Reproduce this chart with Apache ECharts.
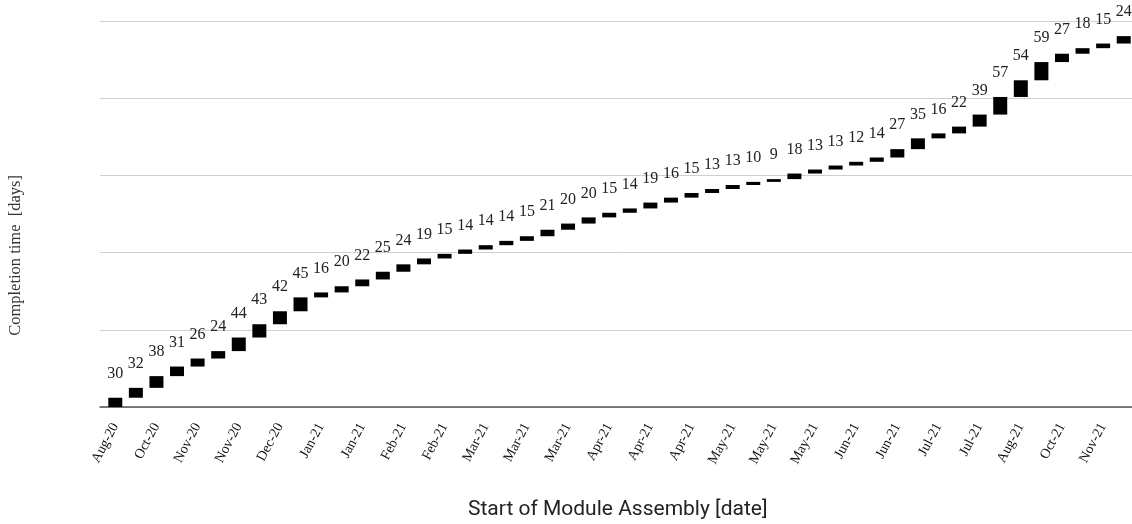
<!DOCTYPE html>
<html>
<head>
<meta charset="utf-8">
<script src="https://cdn.jsdelivr.net/npm/echarts@6/dist/echarts.min.js"></script>
<style>
html,body{margin:0;padding:0;background:#fff;}
#chart{width:1132px;height:524px;}
</style>
</head>
<body>
<div id="chart"></div>
<script>
// Completion time per module (days), in order of start of assembly
const completionDays = [30,32,38,31,26,24,44,43,42,45,16,20,22,25,24,19,15,14,14,14,15,21,20,20,15,14,19,16,15,13,13,10,9,18,13,13,12,14,27,35,16,22,39,57,54,59,27,18,15,24];
// Tick labels shown under every other module
const tickLabels = ['Aug-20','Oct-20','Nov-20','Nov-20','Dec-20','Jan-21','Jan-21','Feb-21','Feb-21','Mar-21','Mar-21','Mar-21','Apr-21','Apr-21','Apr-21','May-21','May-21','May-21','Jun-21','Jun-21','Jul-21','Jul-21','Aug-21','Oct-21','Nov-21'];
// y-axis range (days)
const yMax = 1250;
const yInterval = 250;

// categories: one per module, labelled every second one
const categories = completionDays.map((_, i) => (i % 2 === 0 ? tickLabels[i / 2] : ''));
// waterfall offsets (running total before each module)
const offsets = [];
let run = 0;
completionDays.forEach(v => { offsets.push(run); run += v; });

const chart = echarts.init(document.getElementById('chart'), null, {renderer: 'canvas'});
chart.setOption({
  backgroundColor: '#ffffff',
  animation: false,
  grid: [
    {left: 100, top: 21, width: 1034, height: 386, outerBoundsMode: 'none'},
    {left: 105, top: 21, width: 1029, height: 386, outerBoundsMode: 'none'}
  ],
  xAxis: [
    {type: 'category', gridIndex: 0, data: categories, axisLine: {show: true, lineStyle: {color: '#555', width: 1.5}},
     axisTick: {show: false}, axisLabel: {show: false}, splitLine: {show: false}},
    {type: 'category', gridIndex: 1, data: categories, axisLine: {show: false}, axisTick: {show: false},
     axisLabel: {interval: 0, rotate: 62, margin: 17, fontFamily: 'Liberation Serif', fontSize: 14, color: '#111'},
     splitLine: {show: false}}
  ],
  yAxis: [
    {type: 'value', gridIndex: 0, min: 0, max: yMax, interval: yInterval, axisLine: {show: false}, axisTick: {show: false},
     axisLabel: {show: false}, splitLine: {show: true, lineStyle: {color: '#cfcfcf', width: 1}}},
    {type: 'value', gridIndex: 1, min: 0, max: yMax, interval: yInterval, axisLine: {show: false}, axisTick: {show: false},
     axisLabel: {show: false}, splitLine: {show: false}}
  ],
  series: [
    {type: 'bar', xAxisIndex: 1, yAxisIndex: 1, stack: 'w', data: offsets, barWidth: 14,
     itemStyle: {color: 'rgba(0,0,0,0)'}, silent: true},
    {type: 'bar', xAxisIndex: 1, yAxisIndex: 1, stack: 'w', data: completionDays, barWidth: 14,
     itemStyle: {color: '#000'},
     label: {show: true, position: 'top', distance: 16, fontFamily: 'Liberation Serif', fontSize: 16, color: '#222'}}
  ],
  graphic: [
    {type: 'text', left: 7, top: 175, rotation: Math.PI / 2,
     style: {text: 'Completion time  [days]', font: '16.5px "Liberation Serif"', fill: '#333'}},
    {type: 'text', left: 468, top: 499,
     style: {text: 'Start of Module Assembly [date]', font: '21px Roboto', fill: '#222'}}
  ]
});
</script>
</body>
</html>
